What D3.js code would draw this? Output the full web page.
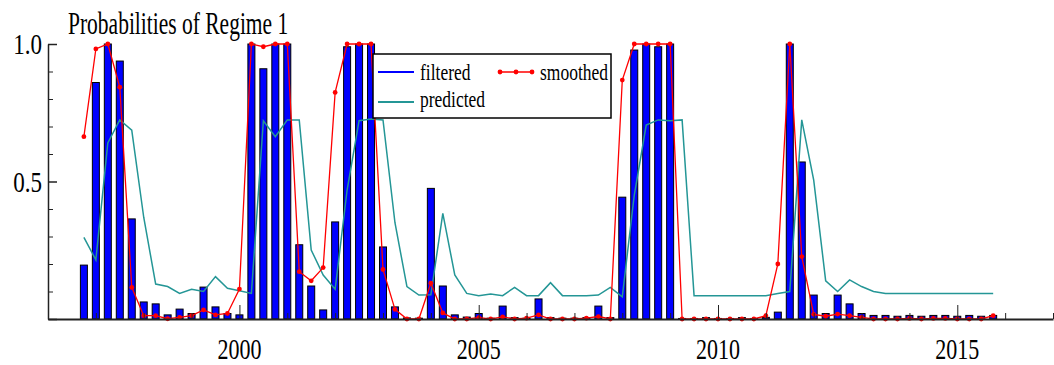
<!DOCTYPE html>
<html><head><meta charset="utf-8">
<script src="https://cdn.jsdelivr.net/npm/d3@7"></script>
<style>body{margin:0;background:#fff;} svg{display:block}</style>
</head><body>
<script>
// ---- data ----
const title = "Probabilities of Regime 1";
const startYear = 1996, startQuarter = 4; // first observation 1996Q4, quarterly
const filtered = [0.196,0.86,1.0,0.938,0.364,0.062,0.055,0.015,0.036,0.02,0.116,0.044,0.02,0.015,
  1.0,0.91,1.0,1.0,0.27,0.12,0.033,0.353,0.99,1.0,1.0,0.262,0.044,0.004,0.003,0.475,0.12,0.015,0.007,
  0.02,0.003,0.047,0.005,0.003,0.073,0.005,0.003,0.003,0.005,0.047,0.005,0.443,0.978,1.0,0.99,1.0,
  0.002,0.002,0.005,0.002,0.002,0.005,0.002,0.006,0.025,1.0,0.571,0.087,0.02,0.087,0.055,0.02,0.013,
  0.013,0.01,0.013,0.01,0.013,0.013,0.01,0.013,0.01,0.013];
const smoothed = [0.663,0.982,1.0,0.843,0.115,0.012,0.012,0.001,0.006,0.012,0.033,0.015,0.02,0.109,
  1.0,0.99,1.0,1.0,0.172,0.139,0.187,0.824,1.0,1.0,1.0,0.18,0.035,0.0,0.0,0.13,0.022,0.0,0.0,
  0.005,0.0,0.008,0.0,0.003,0.015,0.0,0.0,0.0,0.003,0.009,0.0,0.869,1.0,1.0,1.0,1.0,
  0.0,0.0,0.0,0.0,0.0,0.0,0.0,0.012,0.2,1.0,0.227,0.017,0.01,0.018,0.012,0.006,0.0,
  0.0,0.0,0.002,0.0,0.002,0.002,0.0,0.0,0.0,0.012];
const predicted = [0.297,0.215,0.64,0.724,0.687,0.37,0.127,0.118,0.093,0.108,0.1,0.154,0.112,0.103,
  0.093,0.721,0.663,0.724,0.724,0.251,0.16,0.108,0.469,0.721,0.727,0.724,0.35,0.118,0.087,0.088,0.384,0.16,0.093,
  0.085,0.091,0.085,0.115,0.085,0.085,0.132,0.085,0.085,0.085,0.087,0.115,0.081,0.45,0.705,0.724,0.721,
  0.724,0.085,0.085,0.085,0.085,0.085,0.085,0.085,0.093,0.1,0.724,0.505,0.139,0.1,0.142,0.118,0.1,
  0.093,0.093,0.093,0.093,0.093,0.093,0.093,0.093,0.093,0.093];
const xLabelTicks = [2000, 2005, 2010, 2015];
const yLabelTicks = [0.5, 1.0];
const legendLabels = ["filtered", "smoothed", "predicted"];

// ---- chart ----
const W = 1054, H = 365;
const FONT = "'Liberation Serif','Times New Roman',serif";
const cBlue = "#0000ff", cRed = "#ff0000", cTeal = "#249696";
const svg = d3.select("body").append("svg").attr("width", W).attr("height", H);
const x = d3.scaleLinear().domain([1996, 2017]).range([48, 1053]);
const y = d3.scaleLinear().domain([0, 1]).range([319, 44]);
const t = filtered.map((_, i) => startYear + (startQuarter - 1) / 4 + i / 4);

// bars
svg.append("g").selectAll("rect").data(filtered).join("rect")
  .attr("x", (d, i) => x(t[i]) - 3.5).attr("width", 7)
  .attr("y", d => y(d)).attr("height", d => y(0) - y(d))
  .attr("fill", cBlue).attr("stroke", "#000").attr("stroke-width", 1);

// predicted
svg.append("path").datum(predicted)
  .attr("d", d3.line().x((d, i) => x(t[i])).y(d => y(d)))
  .attr("fill", "none").attr("stroke", cTeal).attr("stroke-width", 1.5);

// smoothed
svg.append("path").datum(smoothed)
  .attr("d", d3.line().x((d, i) => x(t[i])).y(d => y(d)))
  .attr("fill", "none").attr("stroke", cRed).attr("stroke-width", 1.3);
svg.append("g").selectAll("circle").data(smoothed).join("circle")
  .attr("cx", (d, i) => x(t[i])).attr("cy", d => y(d))
  .attr("r", 2.4).attr("fill", cRed);

// x axis
const axisColor = "#222";
function styleAxis(g) { g.selectAll("path,line").attr("stroke", axisColor); }
svg.append("g").attr("transform", `translate(0,${y(0)})`)
  .call(d3.axisBottom(x).tickValues(d3.range(1997, 2018).filter(v => v % 5 !== 0))
    .tickSize(-6).tickSizeOuter(0).tickFormat(""))
  .call(g => g.select(".domain").attr("stroke-width", 2))
  .call(styleAxis);
svg.append("g").attr("transform", `translate(0,${y(0)})`)
  .call(d3.axisBottom(x).tickValues(xLabelTicks).tickSize(-14).tickSizeOuter(0).tickFormat(""))
  .call(g => g.select(".domain").remove())
  .call(styleAxis);
svg.append("g").selectAll("text").data(xLabelTicks).join("text")
  .attr("transform", d => `translate(${x(d)},359) scale(1,1.38)`)
  .attr("text-anchor", "middle").attr("font-family", FONT).attr("font-size", 22)
  .attr("fill", "#000").text(d => d);

// y axis
svg.append("g").attr("transform", `translate(${x(1996)},0)`)
  .call(d3.axisRight(y).tickValues(d3.range(0, 11).map(v => v / 10).filter(v => v !== 0 && v !== 0.5 && v !== 1))
    .tickSize(5).tickSizeOuter(0).tickFormat(""))
  .call(g => g.select(".domain").attr("stroke-width", 1.5))
  .call(styleAxis);
svg.append("g").attr("transform", `translate(${x(1996)},0)`)
  .call(d3.axisRight(y).tickValues([0, 0.5, 1]).tickSize(9).tickSizeOuter(0).tickFormat(""))
  .call(g => g.select(".domain").remove())
  .call(g => g.selectAll("line").attr("stroke-width", 1.5))
  .call(styleAxis);
svg.append("g").selectAll("text").data(yLabelTicks).join("text")
  .attr("transform", d => `translate(42,${y(d) + 10}) scale(1,1.3)`)
  .attr("text-anchor", "end").attr("font-family", FONT).attr("font-size", 23)
  .attr("fill", "#000").text(d => d.toFixed(1));

// title
svg.append("text").attr("transform", "translate(68,34) scale(1,1.45)")
  .attr("font-family", FONT).attr("font-size", 21.5).attr("fill", "#000").text(title);

// legend
const lg = svg.append("g");
lg.append("rect").attr("x", 373).attr("y", 54).attr("width", 238).attr("height", 64)
  .attr("fill", "#fff").attr("stroke", "#000").attr("stroke-width", 1.5);
const items = [
  {label: legendLabels[0], color: cBlue, x0: 378, ly: 72, tx: 420, ty: 80, w: 2, marks: false},
  {label: legendLabels[1], color: cRed, x0: 498, ly: 72, tx: 540, ty: 80, w: 1.3, marks: true},
  {label: legendLabels[2], color: cTeal, x0: 378, ly: 102, tx: 420, ty: 107, w: 2, marks: false}
];
items.forEach(it => {
  lg.append("line").attr("x1", it.x0).attr("x2", it.x0 + 36).attr("y1", it.ly).attr("y2", it.ly)
    .attr("stroke", it.color).attr("stroke-width", it.w);
  if (it.marks) [2, 18, 34].forEach(dx => lg.append("circle").attr("cx", it.x0 + dx).attr("cy", it.ly)
    .attr("r", 2.4).attr("fill", it.color));
  lg.append("text").attr("transform", `translate(${it.tx},${it.ty}) scale(1,1.35)`)
    .attr("font-family", FONT).attr("font-size", 17.5).attr("fill", "#000").text(it.label);
});
</script>
</body></html>
